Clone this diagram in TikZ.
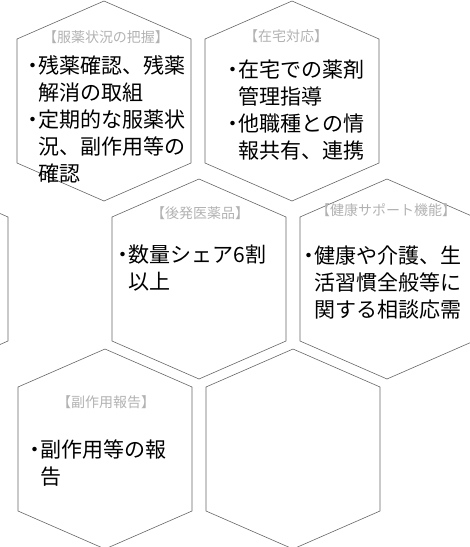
\documentclass[tikz,border=0pt]{standalone}
\usepackage{fontspec}
\setmainfont{Noto Sans CJK JP}
\usetikzlibrary{positioning}
\newcommand{\bul}{\makebox[0.45em][l]{\hspace{-0.3em}・}}
\newcommand{\ind}{\hspace{0.45em}}
\begin{document}
\begin{tikzpicture}[x=1pt, y=-1pt,
    hexline/.style={draw=black!60, line width=0.6pt},
    title/.style={font=\fontsize{14}{14}\selectfont, text=black!30, inner sep=0pt},
    body/.style={font=\fontsize{21}{27}\selectfont, align=left, anchor=north west, inner sep=0pt}]
  \useasboundingbox (0,0) rectangle (470,547);
  % honeycomb
  \begin{scope}
    \clip (0,0) rectangle (470,547);
    \foreach \n/\cx/\cy in {A/104/101, B/292/101, C/199/279, D/387/279, E/105/449, F/293/449, G/-79/279}{
      \coordinate (\n) at (\cx,\cy);
      \draw[hexline] (\n) ++(0,-100) -- ++(87,38) -- ++(0,124) -- ++(-87,38)
        -- ++(-87,-38) -- ++(0,-124) -- cycle;
    }
  \end{scope}
  % titles
  \node[title] (tA) at (106,37) {【服薬状況の把握】};
  \node[title] (tB) at (286,36) {【在宅対応】};
  \node[title] (tC) at (200,213) {【後発医薬品】};
  \node[title] (tD) at (386,210) {【健康サポート機能】};
  \node[title] (tE) at (106,402) {【副作用報告】};
  % contents
  \node[body] (bA) at (29,55) {\bul 残薬確認、残薬\\ \ind 解消の取組\\ \bul 定期的な服薬状\\ \ind 況、副作用等の\\ \ind 確認};
  \node[body] (bB) at (229,60) {\bul 在宅での薬剤\\ \ind 管理指導\\ \bul 他職種との情\\ \ind 報共有、連携};
  \node[body] (bC) at (119,245) {\bul 数量シェア6割\\ \ind 以上};
  \node[body] (bD) at (305,246) {\bul 健康や介護、生\\ \ind 活習慣全般等に\\ \ind 関する相談応需};
  \node[body] (bE) at (31,440) {\bul 副作用等の報\\ \ind 告};
\end{tikzpicture}
\end{document}
